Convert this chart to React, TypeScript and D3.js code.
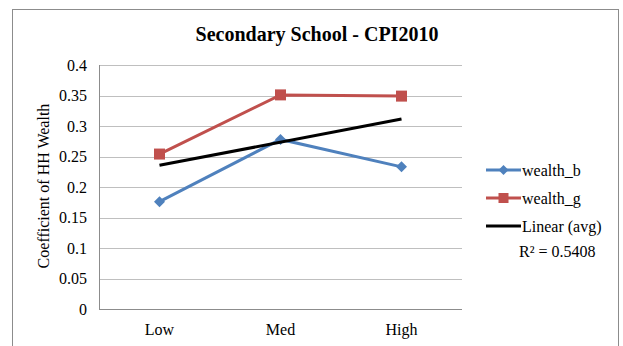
import React from "react";
import * as d3 from "d3";

const categories = ["Low", "Med", "High"];
const wealthB = [0.176, 0.278, 0.233];
const wealthG = [0.254, 0.351, 0.349];
const yTicks = [0, 0.05, 0.1, 0.15, 0.2, 0.25, 0.3, 0.35, 0.4];
const rSquaredLabel = "R² = 0.5408";

const W = 623;
const H = 346;
const plot = { left: 99, right: 462, top: 65, bottom: 309 };
const BLUE = "#4F81BD";
const RED = "#C0504D";
const GRID = "#BFBFBF";
const FONT = "'Liberation Serif', 'Times New Roman', serif";
const FS = 16;

export default function App() {
  const x = d3
    .scaleBand<string>()
    .domain(categories)
    .range([plot.left, plot.right]);
  const cx = (c: string) => (x(c) ?? 0) + x.bandwidth() / 2;
  const y = d3.scaleLinear().domain([0, 0.4]).range([plot.bottom, plot.top]);

  // linear trend through the average of the two series
  const avg = wealthB.map((b, i) => (b + wealthG[i]) / 2);
  const xs = avg.map((_, i) => i + 1);
  const mx = d3.mean(xs)!;
  const my = d3.mean(avg)!;
  const slope =
    d3.sum(xs.map((xi, i) => (xi - mx) * (avg[i] - my))) /
    d3.sum(xs.map((xi) => (xi - mx) ** 2));
  const intercept = my - slope * mx;
  const trend = [
    [cx(categories[0]), y(intercept + slope * 1)],
    [cx(categories[categories.length - 1]), y(intercept + slope * categories.length)],
  ] as [number, number][];

  const line = d3
    .line<number>()
    .x((_, i) => cx(categories[i]))
    .y((d) => y(d));

  const diamond = (px: number, py: number, r = 5.5) =>
    `M${px},${py - r}L${px + r},${py}L${px},${py + r}L${px - r},${py}Z`;

  const legendX = 486;
  const legendRows = [170, 198, 226];

  return (
    <svg
      width={W}
      height={H}
      style={{ position: "absolute", left: 0, top: 0, background: "#fff" }}
      fontFamily={FONT}
    >
      <rect x={12.5} y={9.5} width={606} height={360} fill="#fff" stroke="#8C8C8C" strokeWidth={1} />

      <text x={317} y={41} textAnchor="middle" fontSize={20} fontWeight="bold">
        Secondary School - CPI2010
      </text>

      {yTicks.map((t) => (
        <g key={t}>
          {t > 0 && (
            <line
              x1={plot.left}
              x2={plot.right}
              y1={Math.round(y(t)) + 0.5}
              y2={Math.round(y(t)) + 0.5}
              stroke={GRID}
              strokeWidth={1}
            />
          )}
          <text x={87} y={y(t) + 5.5} textAnchor="end" fontSize={FS}>
            {t}
          </text>
        </g>
      ))}

      <line x1={plot.left + 0.5} x2={plot.left + 0.5} y1={plot.top} y2={plot.bottom + 0.5} stroke="#8C8C8C" />
      <line x1={plot.left} x2={plot.right} y1={plot.bottom + 0.5} y2={plot.bottom + 0.5} stroke="#8C8C8C" />

      {categories.map((c) => (
        <text key={c} x={cx(c)} y={335} textAnchor="middle" fontSize={FS}>
          {c}
        </text>
      ))}

      <text
        transform={`translate(49, ${(plot.top + plot.bottom) / 2 - 1}) rotate(-90)`}
        textAnchor="middle"
        fontSize={FS}
      >
        Coefficient of HH Wealth
      </text>

      <path d={line(wealthB) ?? ""} fill="none" stroke={BLUE} strokeWidth={3} />
      {wealthB.map((v, i) => (
        <path key={i} d={diamond(cx(categories[i]), y(v))} fill={BLUE} />
      ))}

      <path d={line(wealthG) ?? ""} fill="none" stroke={RED} strokeWidth={3} />
      {wealthG.map((v, i) => (
        <rect key={i} x={cx(categories[i]) - 5.5} y={y(v) - 5.5} width={11} height={11} fill={RED} />
      ))}

      <path d={d3.line()(trend) ?? ""} fill="none" stroke="#000" strokeWidth={3} />

      {/* legend */}
      <line x1={legendX} x2={legendX + 35} y1={legendRows[0]} y2={legendRows[0]} stroke={BLUE} strokeWidth={3} />
      <path d={diamond(legendX + 17.5, legendRows[0], 5)} fill={BLUE} />
      <text x={522} y={legendRows[0] + 6} fontSize={FS}>wealth_b</text>

      <line x1={legendX} x2={legendX + 35} y1={legendRows[1]} y2={legendRows[1]} stroke={RED} strokeWidth={3} />
      <rect x={legendX + 12.5} y={legendRows[1] - 5} width={10} height={10} fill={RED} />
      <text x={522} y={legendRows[1] + 6} fontSize={FS}>wealth_g</text>

      <line x1={legendX} x2={legendX + 35} y1={legendRows[2]} y2={legendRows[2]} stroke="#000" strokeWidth={3} />
      <text x={522} y={legendRows[2] + 6} fontSize={FS}>Linear (avg)</text>

      <text x={519} y={257} fontSize={FS}>{rSquaredLabel}</text>
    </svg>
  );
}
